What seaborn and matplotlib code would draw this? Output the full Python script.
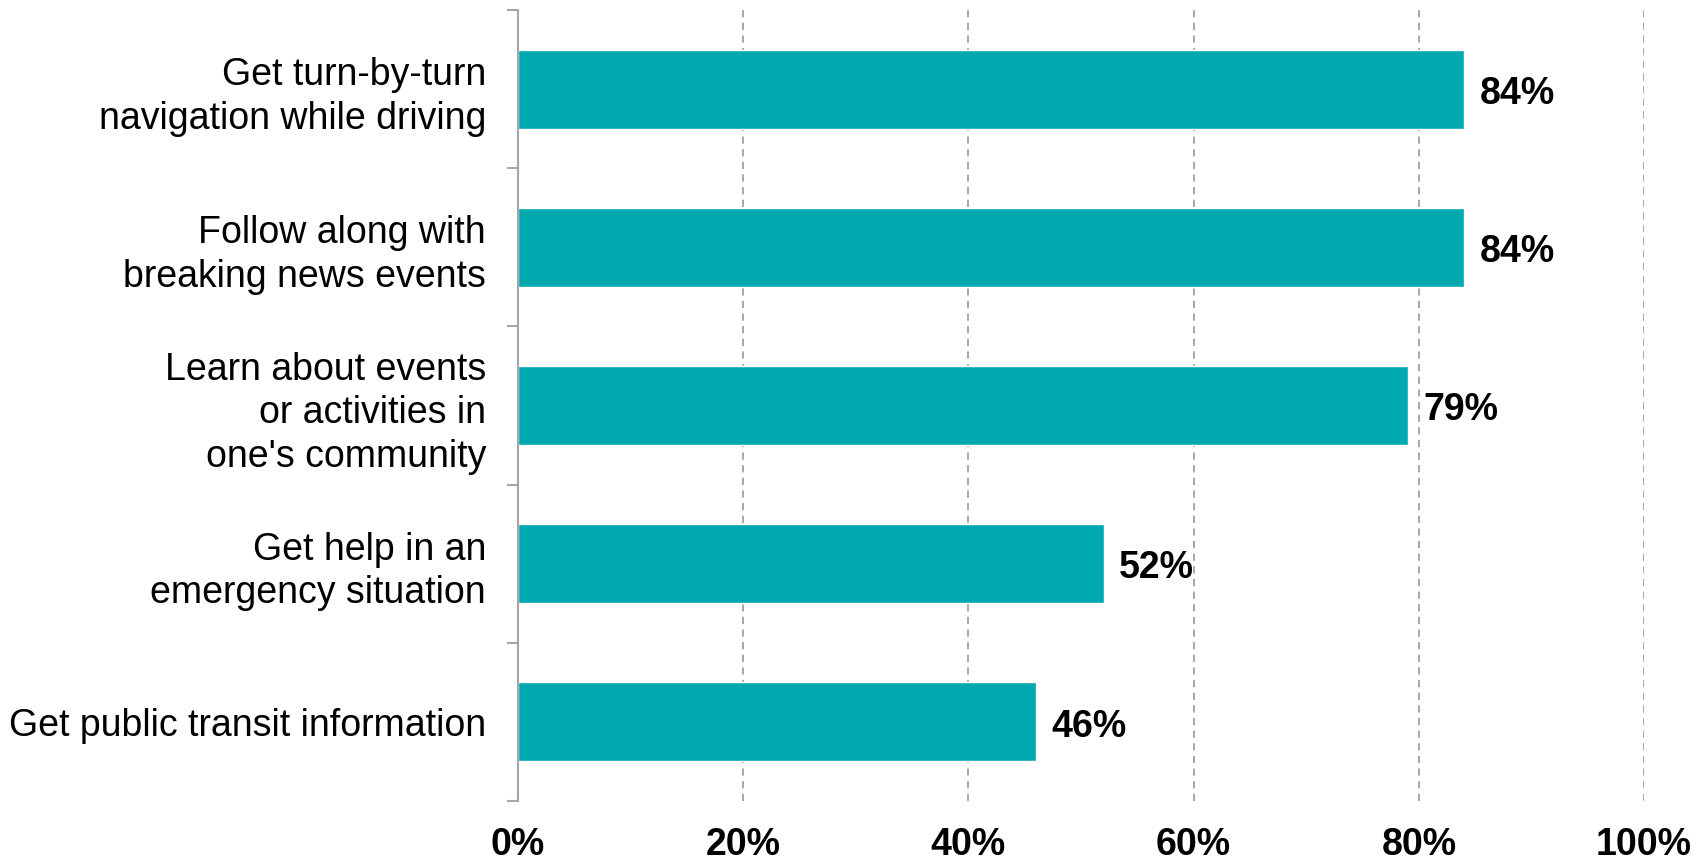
import pandas as pd
import numpy as np
import matplotlib.pyplot as plt
import seaborn as sns

categories = ['Get turn-by-turn\nnavigation while driving',
              'Follow along with\nbreaking news events',
              'Learn about events\nor activities in\none\'s community',
              'Get help in an\nemergency situation',
              'Get public transit information']
values = [84, 84, 79, 52, 46]
xticks = [0, 20, 40, 60, 80, 100]
xtick_labels = ['0%', '20%', '40%', '60%', '80%', '100%']

sns.set_style('white')
plt.rcParams['font.family'] = ['Liberation Sans', 'DejaVu Sans']
plt.rcParams['text.color'] = 'black'
plt.rcParams['xtick.color'] = 'black'
plt.rcParams['ytick.color'] = 'black'

df = pd.DataFrame({'activity': categories, 'share': values})

fig = plt.figure(figsize=(17.06, 8.61), dpi=100)
ax = fig.add_axes([0.3036, 0.0697, 0.6601, 0.9187])

sns.barplot(data=df, x='share', y='activity', orient='h', color='#00A9B0',
            saturation=1, width=0.5, ax=ax)

# value labels
for i, v in enumerate(values):
    ax.text(v + 1.4, i + 0.03, f'{v}%', va='center', ha='left', fontsize=27,
            fontweight='bold', color='black')

ax.set_xlim(0, 100)
ax.set_ylim(4.5, -0.5)
ax.set_xticks(xticks)
ax.set_xticklabels(xtick_labels, fontsize=27, fontweight='bold', color='black')
ax.tick_params(axis='x', length=0, pad=19)

ax.set_yticks(range(len(categories)))
ax.set_yticklabels(categories, fontsize=27, linespacing=1.27, color='black')
ax.set_yticks(np.arange(-0.5, len(categories)), minor=True)
ax.tick_params(axis='y', which='major', length=0, pad=23)
ax.tick_params(axis='y', which='minor', left=True, length=8, width=1.5,
               color='#a6a6a6', direction='out')

for x in xticks[1:]:
    ax.axvline(x, color='#a0a0a0', linestyle=(0, (4, 3)), linewidth=1.3, zorder=0)

for s in ['top', 'right', 'bottom']:
    ax.spines[s].set_visible(False)
ax.spines['left'].set_color('#a6a6a6')
ax.spines['left'].set_linewidth(1.5)

ax.set_xlabel('')
ax.set_ylabel('')

fig.savefig('out.png', dpi=100)
